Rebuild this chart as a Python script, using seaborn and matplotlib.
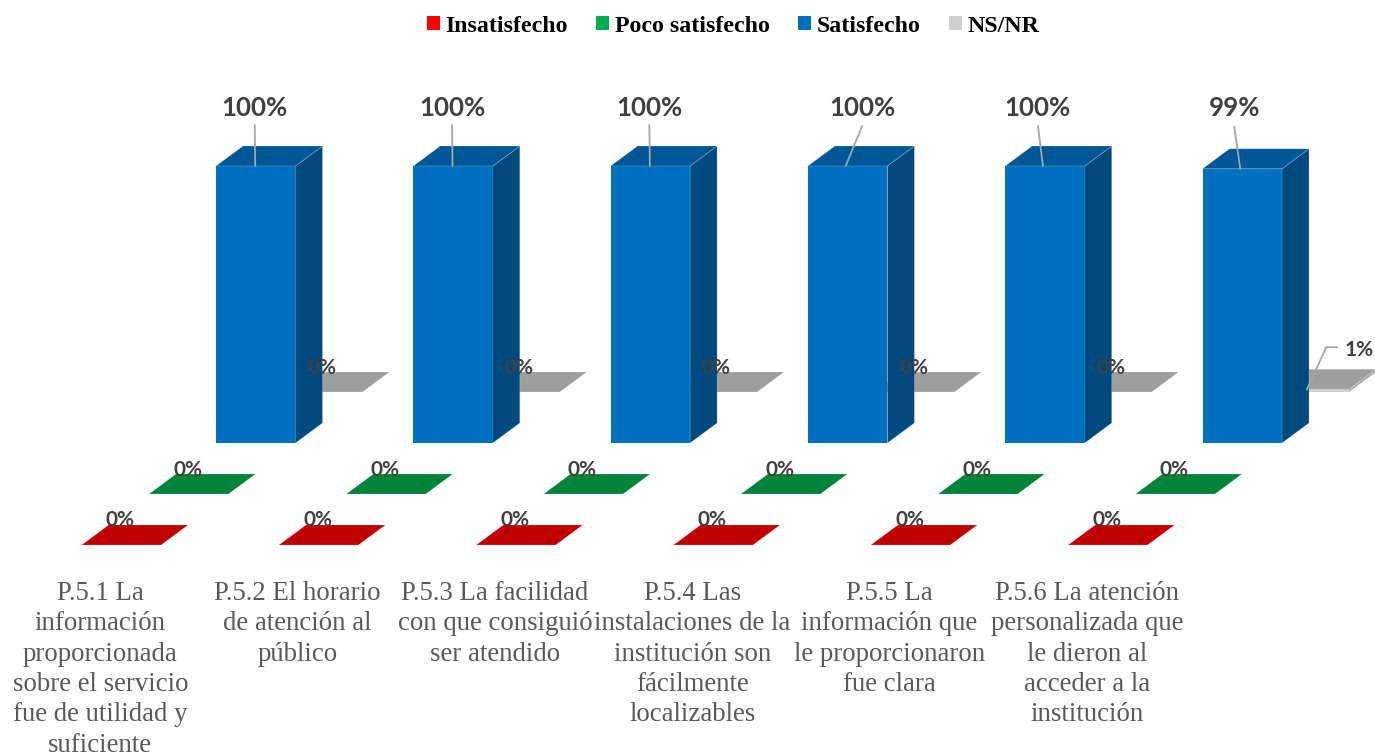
import matplotlib
matplotlib.use("Agg")
import matplotlib.pyplot as plt
import pandas as pd
import seaborn as sns
from matplotlib.lines import Line2D
from matplotlib.patches import Patch, Polygon
from matplotlib.transforms import Affine2D, IdentityTransform

# Survey results per question, in percent
preguntas = [
    "P.5.1 La\ninformación\nproporcionada\nsobre el servicio\nfue de utilidad y\nsuficiente",
    "P.5.2 El horario\nde atención al\npúblico",
    "P.5.3 La facilidad\ncon que consiguió\nser atendido",
    "P.5.4 Las\ninstalaciones de la\ninstitución son\nfácilmente\nlocalizables",
    "P.5.5 La\ninformación que\nle proporcionaron\nfue clara",
    "P.5.6 La atención\npersonalizada que\nle dieron al\nacceder a la\ninstitución",
]
insatisfecho = [0, 0, 0, 0, 0, 0]
poco_satisfecho = [0, 0, 0, 0, 0, 0]
satisfecho = [100, 100, 100, 100, 100, 99]
ns_nr = [0, 0, 0, 0, 0, 1]

W, H = 1375, 756
DPI = 100
SPACING = 197.3          # px between categories
BAR_W = 79.5             # px front width
PX_PER_PCT = 2.77        # vertical scale
DEPTH = (27, 20)         # oblique depth of each bar, px
RIM = (1, 1, 1, 0.22)    # pale rim around every face

# series: name, values, front, top, side, left edge of first front, baseline (px from top)
series = [
    ("NS/NR", ns_nr, "#D0CECE", "#9E9E9E", "#A8A8A8", 283.0, 392),
    ("Satisfecho", satisfecho, "#0070C0", "#005797", "#004A80", 216.0, 443),
    ("Poco satisfecho", poco_satisfecho, "#00B050", "#00843A", "#006A2E", 149.0, 494),
    ("Insatisfecho", insatisfecho, "#FF0000", "#C00000", "#990000", 81.6, 545),
]
legend_order = ["Insatisfecho", "Poco satisfecho", "Satisfecho", "NS/NR"]

df = pd.concat(
    [pd.DataFrame({"pregunta": preguntas, "valor": s[1], "serie": s[0]}) for s in series],
    ignore_index=True,
)

sns.set_theme(style="white")
fig = plt.figure(figsize=(W / DPI, H / DPI), dpi=DPI, facecolor="white")

axes = {}
for name, values, front, top, side, x0, base in series:
    left = x0 + BAR_W / 2 - SPACING / 2
    ax = fig.add_axes([left / W, 1 - base / H, SPACING * 6 / W, 100 * PX_PER_PCT / H])
    sns.barplot(
        data=df[df["serie"] == name], x="pregunta", y="valor", color=front,
        saturation=1, width=BAR_W / SPACING, ax=ax, linewidth=0,
    )
    ax.set_xlim(-0.5, 5.5)
    ax.set_ylim(0, 100)
    ax.patch.set_visible(False)
    ax.set_xlabel("")
    ax.set_ylabel("")
    ax.set_yticks([])
    sns.despine(ax=ax, left=True, bottom=True)
    ax.tick_params(axis="x", length=0)
    fig.canvas.draw()

    # Oblique top and side faces derived from each bar's data-space rectangle
    for bar in ax.patches:
        (xa, ya), (xb, yb) = ax.transData.transform(
            [(bar.get_x(), 0), (bar.get_x() + bar.get_width(), bar.get_height())]
        )
        dx, dy = DEPTH
        top_face = [(xa, yb), (xb, yb), (xb + dx, yb + dy), (xa + dx, yb + dy)]
        side_face = [(xb, ya), (xb + dx, ya + dy), (xb + dx, yb + dy), (xb, yb)]
        ax.add_patch(Polygon(side_face, closed=True, facecolor=side, edgecolor=RIM, linewidth=0.6,
                             transform=IdentityTransform(), clip_on=False, zorder=3))
        ax.add_patch(Polygon(top_face, closed=True, facecolor=top, edgecolor=RIM, linewidth=0.6,
                             transform=IdentityTransform(), clip_on=False, zorder=3))
    axes[name] = ax

# Category labels hang under the front row, shifted left of the bars
front_ax = axes["Insatisfecho"]
front_ax.set_xticks(range(len(preguntas)))
front_ax.set_xticklabels(preguntas, family="Liberation Serif", fontsize=19.3,
                         color="#595959", linespacing=1.28)
front_ax.tick_params(axis="x", pad=26)
shift = Affine2D().translate(-21, 0)
for lab in front_ax.get_xticklabels():
    lab.set_transform(lab.get_transform() + shift)
for name, ax in axes.items():
    if ax is not front_ax:
        ax.set_xticks([])

LABEL_COLOR = "#404040"
LEADER_COLOR = "#A6A6A6"


def value_label(src, i, value, dx, dy, size):
    front_ax.annotate(
        f"{value}%", xy=(i, value), xycoords=src.transData, xytext=(dx, dy),
        textcoords="offset pixels", ha="center", va="center", family="Lato",
        fontweight="bold", fontsize=size, color=LABEL_COLOR, annotation_clip=False,
        zorder=10,
    )


def leader(src, i, value, anchor, dx, dy):
    front_ax.annotate(
        "", xy=(i + anchor / SPACING, value), xycoords=src.transData,
        xytext=(dx - anchor, dy), textcoords="offset pixels",
        arrowprops=dict(arrowstyle="-", color=LEADER_COLOR, lw=1.3, shrinkA=0, shrinkB=0,
                        relpos=(0.5, 0.5)),
        annotation_clip=False, zorder=9,
    )


# Blue series: label above the bar, tied to it with a thin leader
label_dx = [-1, -1, -1, 14.5, -7, -8]
label_dy = [58, 58, 58, 58, 58, 61]
leader_dy = [41, 41, 41, 40, 40, 42]
leader_anchor = [-0.5, -0.5, -0.5, -2, -2, -2]
blue_ax = axes["Satisfecho"]
for i, v in enumerate(satisfecho):
    leader(blue_ax, i, v, leader_anchor[i], label_dx[i], leader_dy[i])
    value_label(blue_ax, i, v, label_dx[i], label_dy[i], 18.6)

# Zero values sit just above their flat bars
for name in ["NS/NR", "Poco satisfecho", "Insatisfecho"]:
    src = axes[name]
    vals = df[df["serie"] == name]["valor"].tolist()
    for i, v in enumerate(vals):
        if v == 0:
            value_label(src, i, v, -1, 24.5, 15)

# The single non-zero NS/NR value uses an elbow leader
gray_ax = axes["NS/NR"]
px, py = gray_ax.transData.transform((5, ns_nr[5]))
fig.add_artist(Line2D([px - 2.5, px + 17, px + 28], [py - 0.5, py + 42, py + 42],
                      color=LEADER_COLOR, lw=1.3, transform=IdentityTransform(), zorder=9))
value_label(gray_ax, 5, ns_nr[5], 50, 39, 15)

face = {s[0]: s[2] for s in series}
handles = [Patch(facecolor=face[n], edgecolor="none", label=n) for n in legend_order]
fig.legend(
    handles=handles, loc="center", bbox_to_anchor=(733 / W, 1 - 26 / H), ncol=4, frameon=False,
    prop={"family": "Liberation Serif", "weight": "bold", "size": 17.2}, handlelength=0.55,
    handleheight=0.55, handletextpad=0.22, columnspacing=1.2, labelcolor="black",
)

fig.savefig("out.png", dpi=DPI, facecolor="white")
